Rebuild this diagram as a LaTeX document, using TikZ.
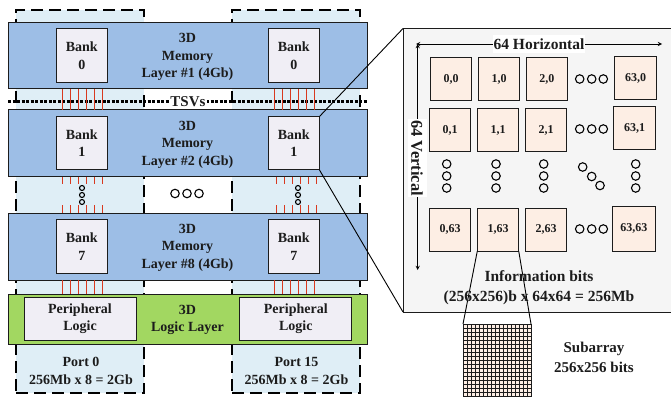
\documentclass[tikz,border=0pt]{standalone}
\usepackage{fontspec}
\setmainfont{Liberation Serif}
\usetikzlibrary{arrows,positioning}
\definecolor{layerblue}{HTML}{9DBEE6}
\definecolor{portblue}{HTML}{DFEEF6}
\definecolor{logicgreen}{HTML}{A2D761}
\definecolor{boxgray}{HTML}{F0EEF5}
\definecolor{panelgray}{HTML}{F5F5F5}
\definecolor{cellpeach}{HTML}{FDEEE4}
\definecolor{tsvred}{HTML}{D8391F}
\definecolor{inkdark}{HTML}{1C1C1C}
\tikzset{
  lbl/.style={font=\bfseries\fontsize{14}{17.5}\selectfont,text=inkdark,align=center,inner sep=0pt},
  port/.style={draw=black,fill=portblue,line width=2.6,dash pattern=on 12 off 6,minimum width=128,minimum height=383,outer sep=0pt},
  layer/.style={draw=inkdark,fill=layerblue,line width=1,minimum width=359,outer sep=0pt},
  bank/.style={lbl,draw=inkdark,fill=boxgray,line width=1,minimum width=51.5,minimum height=53.5,outer sep=0pt},
  periph/.style={bank,minimum width=112,minimum height=42.5},
  cell/.style={lbl,font=\bfseries\fontsize{12}{14}\selectfont,draw=inkdark,fill=cellpeach,line width=1,minimum width=41.5,minimum height=43,outer sep=0pt},
  dotc/.style={circle,draw=black,line width=1.1,fill=none,minimum size=8.5,inner sep=0pt},
  dotsmall/.style={dotc,minimum size=5},
  tsv/.style={draw=tsvred,line width=0.9},
  zoomline/.style={draw=black,line width=0.9},
}
\begin{document}
\begin{tikzpicture}[x=1pt,y=-1pt]
\useasboundingbox (0,0) rectangle (671,398);
% ports behind the layers
\node[port] (port0) at (80,201.5) {};
\node[port] (port15) at (296,201.5) {};

% TSV bus
\coordinate (busl) at (8,101.5);
\coordinate (busr) at (367,101.5);
\draw[line width=2.2,dash pattern=on 3 off 1.5] (busl) -- (busr);
\node[lbl,fill=white,font=\bfseries\fontsize{15}{17}\selectfont,inner xsep=1pt,minimum height=15] (tsvs) at (188,101.5) {TSVs};

% stacked layers
\node[layer,minimum height=66.5] (layerA) at (187.5,55.75) {};
\node[layer,minimum height=66.5] (layerB) at (187.5,143.25) {};
\node[layer,minimum height=67] (layerH) at (187.5,246.5) {};
\node[layer,fill=logicgreen,minimum height=50] (logic) at (187.5,319) {};

\node[lbl] (txtA) at (187.5,57) {3D\\Memory\\Layer \#1 (4Gb)};
\node[lbl] (txtB) at (187.5,144.5) {3D\\Memory\\Layer \#2 (4Gb)};
\node[lbl] (txtH) at (187.5,247.5) {3D\\Memory\\Layer \#8 (4Gb)};
\node[lbl] (txtL) at (187.5,320) {3D\\Logic Layer};

% banks
\node[bank] (bankA0) at (81.75,55.5) {Bank\\0};
\node[bank] (bankA1) at (293.75,55.5) {Bank\\0};
\node[bank] (bankB0) at (81.75,143.25) {Bank\\1};
\node[bank] (bankB1) at (293.75,143.25) {Bank\\1};
\node[bank] (bankH0) at (81.75,246.5) {Bank\\7};
\node[bank] (bankH1) at (293.75,246.5) {Bank\\7};
\node[periph] (perL) at (80,318.75) {Peripheral\\Logic};
\node[periph] (perR) at (295.75,318.75) {Peripheral\\Logic};

% TSV wires
\foreach \x in {62,70,78,86,94,102} {
  \draw[tsv] (\x,0 |- layerA.south) -- (\x,0 |- layerB.north);
  \draw[tsv] (\x,0 |- layerB.south) -- (\x,183.5);
  \draw[tsv] (\x,205) -- (\x,0 |- layerH.north);
  \draw[tsv] (\x,0 |- layerH.south) -- (\x,0 |- logic.north);
}
\foreach \x in {274.5,282.5,290.5,298.5,306.5,314.5}
  \draw[tsv] (\x,0 |- layerA.south) -- (\x,0 |- layerB.north);
\foreach \x in {276,284,292,300,308,316} {
  \draw[tsv] (\x,0 |- layerB.south) -- (\x,183.5);
  \draw[tsv] (\x,205) -- (\x,0 |- layerH.north);
}
\foreach \x in {274,282,290,298,306,314}
  \draw[tsv] (\x,0 |- layerH.south) -- (\x,0 |- logic.north);

% dots in the gap
\foreach \y in {188,195,202} {
  \node[dotsmall] (gl\y) at (82,\y) {};
  \node[dotsmall] (gr\y) at (298,\y) {};
}
\foreach \x in {175,187,199}
  \node[dotc] (gm\x) at (\x,193.5) {};

% port labels
\node[lbl] (lblP0) at (81,371) {Port 0\\256Mb x 8 = 2Gb};
\node[lbl] (lblP15) at (296.5,371) {Port 15\\256Mb x 8 = 2Gb};

% zoomed bank
\node[draw=inkdark,fill=panelgray,line width=1,minimum width=270,minimum height=283.5,outer sep=0pt] (panel) at (538,170.25) {};
\draw[zoomline] (bankB1.north east) -- (panel.north west);
\draw[zoomline] (bankB1.south east) -- (panel.south west);

\coordinate (hl) at (416,44);
\coordinate (hr) at (662,44);
\coordinate (vb) at (417.7,270);
\draw[<->,>=stealth,line width=0.9] (hl) -- (hr);
\draw[<->,>=stealth,line width=0.9] (hl -| vb) -- (vb);
\node[lbl,fill=white,font=\bfseries\fontsize{15.5}{17}\selectfont,inner xsep=1pt,minimum height=18] (hlab) at (539,44) {64 Horizontal};
\node[lbl,fill=white,font=\bfseries\fontsize{16.5}{17}\selectfont,inner xsep=1pt,minimum height=19,rotate=-90] (vlab) at (417,158) {64 Vertical};

% subarray cells
\node[cell] (c00) at (451.2,79.2) {0,0};
\node[cell] (c10) at (499,79.2) {1,0};
\node[cell] (c20) at (546.8,79.2) {2,0};
\node[cell] (c630) at (635.6,78) {63,0};
\node[cell] (c01) at (450.2,130) {0,1};
\node[cell] (c11) at (498,130) {1,1};
\node[cell] (c21) at (546,130) {2,1};
\node[cell] (c631) at (634.6,128.5) {63,1};
\node[cell] (c063) at (450.2,229.8) {0,63};
\node[cell] (c163) at (498,229.8) {1,63};
\node[cell] (c263) at (546,229.8) {2,63};
\node[cell,minimum width=43,minimum height=45] (c6363) at (633.8,228.5) {63,63};

\foreach \y in {79,129,229}
  \foreach \x in {579.7,591.7,603.3}
    \node[dotc] (h\x-\y) at (\x,\y) {};
\foreach \x in {446.7,496,543.7,635.7}
  \foreach \y in {164,176,188}
    \node[dotc] (v\x-\y) at (\x,\y) {};
\node[dotc] (d1) at (582.7,167) {};
\node[dotc] (d2) at (591.7,176.5) {};
\node[dotc] (d3) at (600,185.5) {};

% bit grid
\node[draw=inkdark,fill=cellpeach,line width=1,minimum width=68,minimum height=72,outer sep=0pt] (subarr) at (497,360) {};
\foreach \i in {1,...,16}
  \draw[line width=1,color=inkdark] (463+4*\i,324) -- (463+4*\i,396);
\foreach \i in {1,...,17}
  \draw[line width=1,color=inkdark] (463,324+4*\i) -- (531,324+4*\i);
\draw[zoomline] (c163.south west) -- (subarr.north west);
\draw[zoomline] (c163.south east) -- (subarr.north east);

\node[lbl,font=\bfseries\fontsize{15.5}{20}\selectfont] (info) at (539,288) {Information bits\\(256x256)b x 64x64 = 256Mb};
\node[lbl,font=\bfseries\fontsize{15}{20}\selectfont] (subtxt) at (594,357) {Subarray\\256x256 bits};
\end{tikzpicture}
\end{document}
